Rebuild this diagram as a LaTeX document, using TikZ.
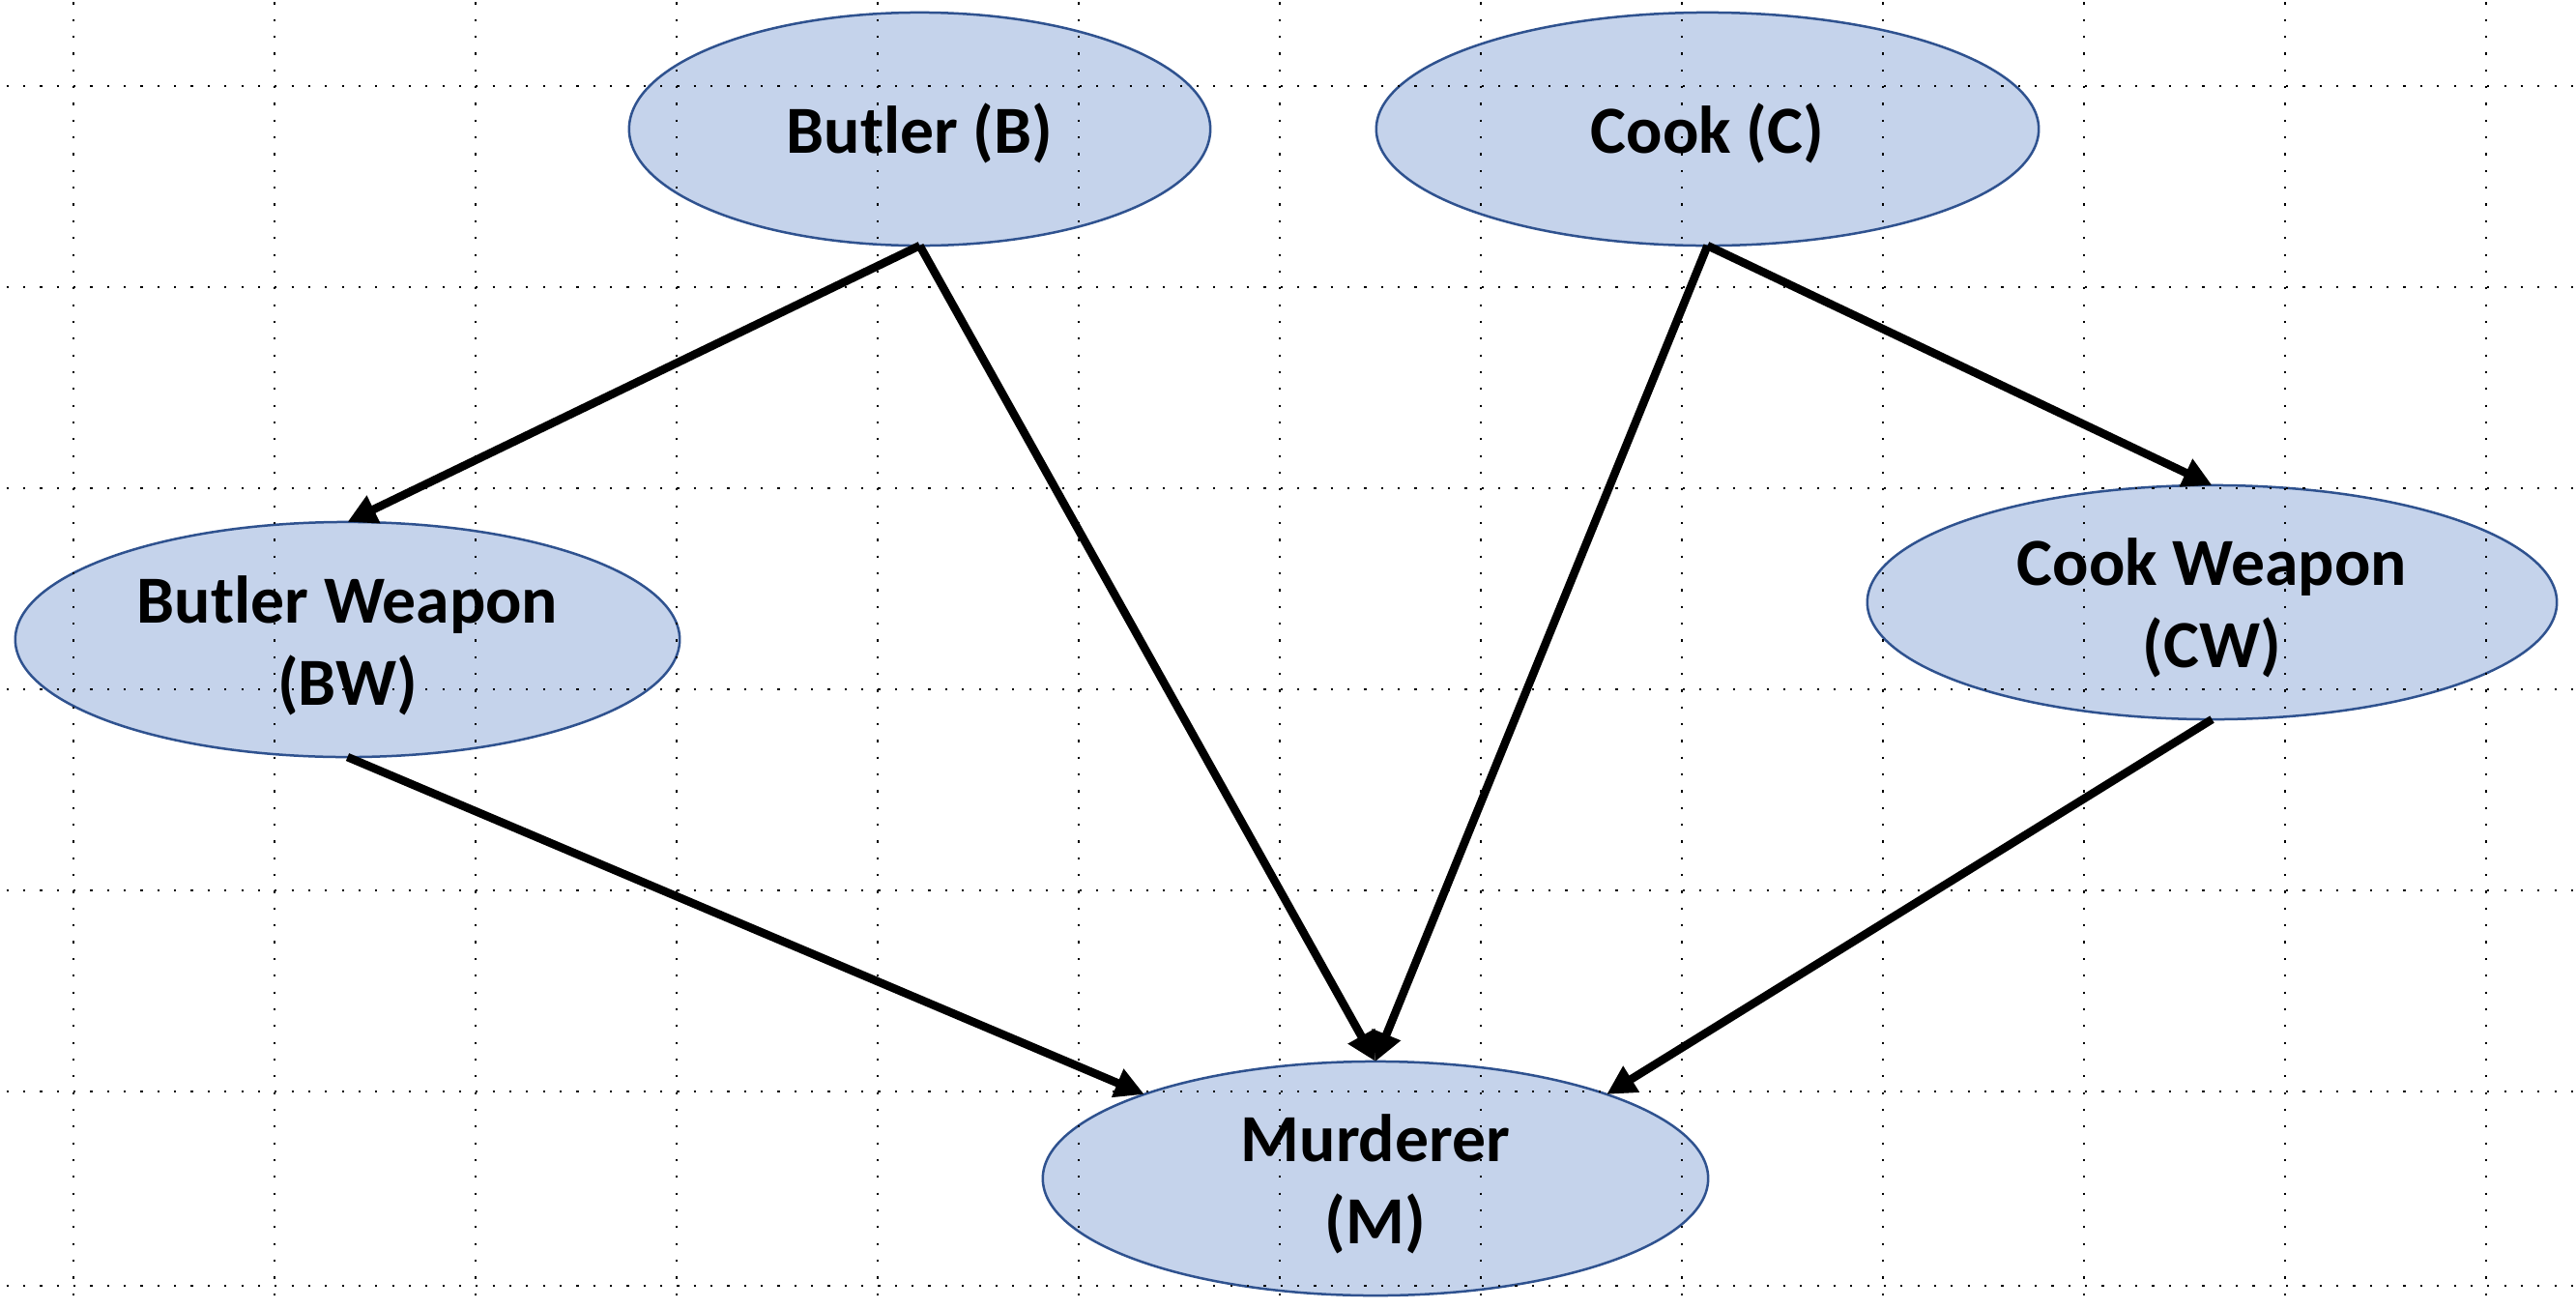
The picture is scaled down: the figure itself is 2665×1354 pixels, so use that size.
\documentclass[tikz,border=0pt]{standalone}
\usepackage{fontspec}
\setmainfont{Carlito}
\usetikzlibrary{arrows.meta,shapes.geometric}
\definecolor{nodefill}{RGB}{197,211,235}
\definecolor{nodeline}{RGB}{47,82,143}
\newcommand\toppad{\rule{0pt}{0.88em}}
\begin{document}
\begin{tikzpicture}[x=0.01cm,y=-0.01cm,
  var/.style={ellipse, draw=nodeline, line width=0.025cm, fill=nodefill, inner sep=0pt, outer sep=0pt, align=center,
    font=\fontsize{19.8pt}{24.2pt}\selectfont\bfseries},
  edge/.style={line width=0.085cm, -{Triangle[length=0.3cm,width=0.3cm]}},
  gridline/.style={line width=0.022cm, dash pattern=on 0.022cm off 0.1513cm}]
\useasboundingbox (0,0) rectangle (2665,1354);
\fill[white] (0,0) rectangle (2665,1354);
\node[var, minimum width=6.01cm, minimum height=2.41cm] (B) at (951.5,133.5) {\toppad Butler (B)};
\node[var, minimum width=6.85cm, minimum height=2.41cm] (C) at (1766.5,133.5) {\toppad Cook (C)};
\node[var, minimum width=6.87cm, minimum height=2.43cm] (BW) at (359.5,661.5) {\toppad Butler Weapon\\(BW)};
\node[var, minimum width=7.13cm, minimum height=2.42cm] (CW) at (2288.5,623) {\toppad Cook Weapon\\(CW)};
\node[var, minimum width=6.88cm, minimum height=2.42cm] (M) at (1423,1219) {\toppad Murderer\\(M)};
\draw[edge] (B.south) -- (BW.north);
\draw[edge] (B.south) -- (M.north);
\draw[edge] (C.south) -- (M.north);
\draw[edge] (C.south) -- (CW.north);
\draw[edge] (BW.south) -- (M.160);
\draw[edge] (CW.south) -- (M.20);
\begin{scope}
\clip (0,0) rectangle (2665,1354);
\foreach \y in {89,297,505,713,921,1129,1330} \draw[gridline] (-132,\y) -- (2800,\y);
\foreach \k in {0,...,12} \draw[gridline] ({76+208*\k},-119) -- ({76+208*\k},1400);
\end{scope}
\end{tikzpicture}
\end{document}
